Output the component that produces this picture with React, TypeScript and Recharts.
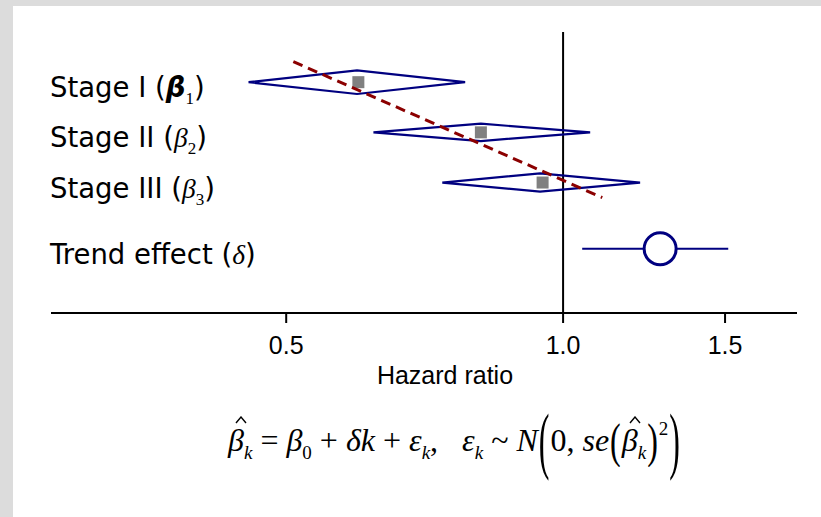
import { ComposedChart, Scatter, XAxis, YAxis, ReferenceLine } from "recharts";

// rows (top to bottom), positioned on a numeric y scale
const rowLabels = ["Stage I", "Stage II", "Stage III", "Trend effect"];
const rowSymbols = ["β", "β", "β", "δ"];
const rowSubs = ["1", "2", "3", ""];
const rowPos = [4, 3, 2, 0.68];

// stage estimates (hazard ratio)
const ciLow = [0.455, 0.622, 0.739];
const pooled = [0.597, 0.814, 0.944];
const ciHigh = [0.7825, 1.07, 1.2125];
const diamondHalf = [0.235, 0.173, 0.183];
const observed = [0.599, 0.814, 0.95];

// trend effect
const trendCi = [1.049, 1.512];
const trendEst = [1.275];

// fitted trend line
const fitX = [0.509, 1.103];
const fitY = [4.41, 1.7];

const xTicks = [0.5, 1, 1.5];

const NAVY = "#000080";
const SERIF = "'Liberation Serif', 'Times New Roman', serif";

const diamonds = pooled.map((m, i) => {
  const r = rowPos[i];
  const h = diamondHalf[i];
  return [
    { x: ciLow[i], y: r },
    { x: m, y: r + h },
    { x: ciHigh[i], y: r },
    { x: m, y: r - h },
    { x: ciLow[i], y: r },
  ];
});
const squares = observed.map((v, i) => ({ x: v, y: rowPos[i] }));
const trendLine = trendCi.map((v) => ({ x: v, y: rowPos[3] }));
const trendPoint = trendEst.map((v) => ({ x: v, y: rowPos[3] }));
const fitLine = fitX.map((v, i) => ({ x: v, y: fitY[i] }));

const none = () => <g />;

function RowLabel(props: any) {
  const v = props.payload?.value;
  const i = rowPos.findIndex((r) => Math.abs(r - v) < 1e-6);
  if (i < 0) return <g />;
  const bold = i === 0;
  return (
    <text x={50} y={props.y + 15} fill="#000" fontFamily="'DejaVu Sans', Verdana, sans-serif" fontSize={27.5}>
      <tspan>{rowLabels[i]} (</tspan>
      {bold ? (
        <tspan fontWeight="bold" fontStyle="italic">{rowSymbols[i]}</tspan>
      ) : (
        <tspan fontFamily={SERIF} fontStyle="italic">{rowSymbols[i]}</tspan>
      )}
      {rowSubs[i] ? (
        <>
          <tspan fontFamily={SERIF} fontSize={17} dy={7}>{rowSubs[i]}</tspan>
          <tspan dy={-7}>)</tspan>
        </>
      ) : (
        <tspan>)</tspan>
      )}
    </text>
  );
}

const sub = (s: string, italic = true) => (
  <span style={{ fontSize: 19, position: "relative", top: 8, fontStyle: italic ? "italic" : "normal" }}>{s}</span>
);

// hat accent drawn as a small caret so it doesn't overlap as text
const Hat = ({ children }: { children: string }) => (
  <span style={{ position: "relative", display: "inline-block" }}>
    <i>{children}</i>
    <svg width={12} height={8} style={{ position: "absolute", left: 7, top: -2 }}>
      <polyline points="1,7 6,1 11,7" fill="none" stroke="#000" strokeWidth={1.4} />
    </svg>
  </span>
);

const Paren = ({ c, s }: { c: string; s: number }) => (
  <span style={{ display: "inline-block", transform: `scale(1, ${s})`, margin: "0 1px" }}>{c}</span>
);

export default function App() {
  return (
    <div style={{ position: "absolute", left: 0, top: 0, width: 821, height: 517, background: "#dcdcdc", overflow: "hidden" }}>
      <div style={{ position: "absolute", left: 13, top: 6, right: 0, bottom: 0, background: "#fff" }} />
      <div style={{ position: "absolute", left: 0, top: 0 }}>
        <ComposedChart width={821} height={517} margin={{ top: 32, right: 24, left: 0, bottom: 104 }}>
          <XAxis
            type="number"
            dataKey="x"
            scale="log"
            domain={[0.2775, 1.796]}
            allowDataOverflow
            ticks={xTicks}
            interval={0}
            tickFormatter={(v: number) => v.toFixed(1)}
            axisLine={{ stroke: "#000", strokeWidth: 2 }}
            tickLine={{ stroke: "#000", strokeWidth: 2 }}
            tickSize={10}
            tickMargin={13}
            height={100}
            tick={{ fill: "#000", fontSize: 25, fontFamily: "'Liberation Sans', Arial, sans-serif" }}
            label={{
              content: (p: any) => (
                <text
                  x={p.viewBox.x + p.viewBox.width / 2 + 21}
                  y={p.viewBox.y + 71}
                  textAnchor="middle"
                  fill="#000"
                  fontSize={25}
                  fontFamily="'Liberation Sans', Arial, sans-serif"
                >
                  Hazard ratio
                </text>
              ),
            }}
          />
          <YAxis
            type="number"
            dataKey="y"
            domain={[-0.6, 5]}
            allowDataOverflow
            ticks={rowPos}
            interval={0}
            width={51}
            axisLine={false}
            tickLine={false}
            tick={(p: any) => <RowLabel {...p} />}
          />
          {diamonds.map((d, i) => (
            <Scatter
              key={i}
              data={d}
              shape={none}
              line={{ stroke: NAVY, strokeWidth: 2.2 }}
              isAnimationActive={false}
            />
          ))}
          <Scatter
            data={squares}
            isAnimationActive={false}
            shape={(p: any) => <rect x={p.cx - 6} y={p.cy - 6} width={12} height={12} fill="#808080" />}
          />
          <Scatter data={trendLine} shape={none} line={{ stroke: NAVY, strokeWidth: 2 }} isAnimationActive={false} />
          <Scatter
            data={trendPoint}
            isAnimationActive={false}
            shape={(p: any) => <circle cx={p.cx} cy={p.cy} r={16} fill="#fff" stroke={NAVY} strokeWidth={3} />}
          />
          <Scatter
            data={fitLine}
            shape={none}
            line={{ stroke: "#8b0000", strokeWidth: 3, strokeDasharray: "10 6" }}
            isAnimationActive={false}
          />
          <ReferenceLine x={1} stroke="#000" strokeWidth={2} />
        </ComposedChart>
      </div>
      <div
        style={{
          position: "absolute",
          left: 228,
          top: 418,
          fontFamily: SERIF,
          fontSize: 32,
          lineHeight: "44px",
          whiteSpace: "nowrap",
          color: "#000",
        }}
      >
        <Hat>β</Hat>
        {sub("k")} = <i>β</i>
        {sub("0", false)} + <i>δk</i> + <i>ε</i>
        {sub("k")},&nbsp;&nbsp;&nbsp;<i>ε</i>
        {sub("k")} ~ <i>N</i>
        <Paren c="(" s={2.3} />
        0, <i>se</i>
        <Paren c="(" s={1.5} />
        <Hat>β</Hat>
        {sub("k")}
        <Paren c=")" s={1.5} />
        <span style={{ fontSize: 19, position: "relative", top: -16 }}>2</span>
        <Paren c=")" s={2.3} />
      </div>
    </div>
  );
}
